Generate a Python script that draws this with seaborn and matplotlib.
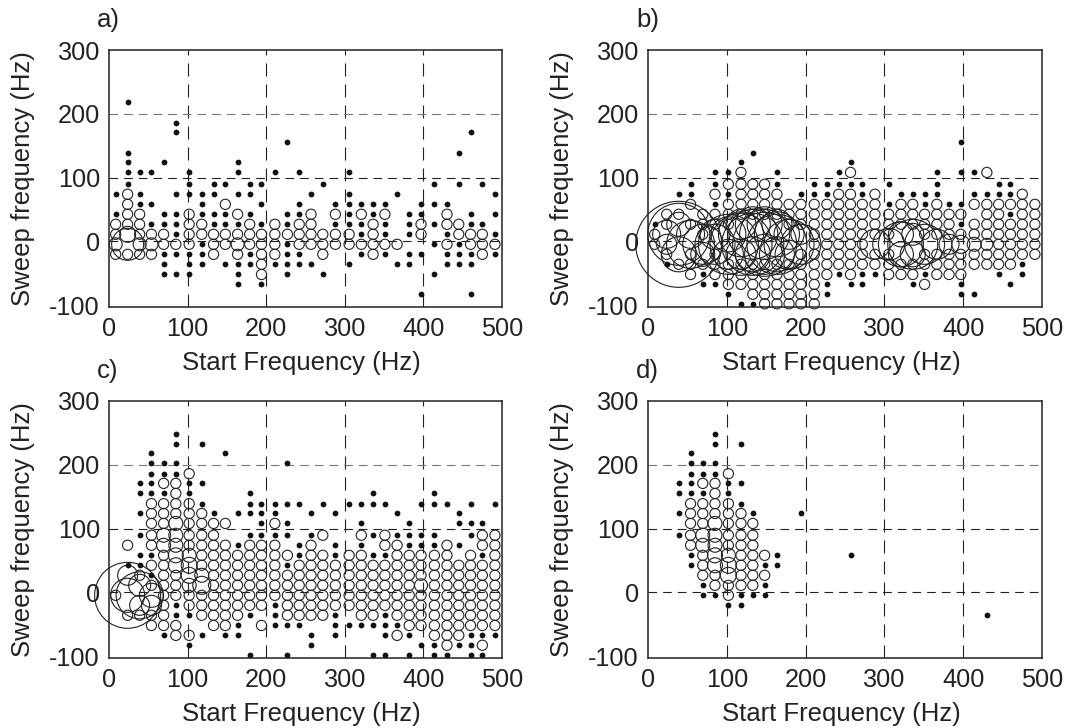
import matplotlib
matplotlib.use("Agg")
import matplotlib.pyplot as plt
import pandas as pd
import seaborn as sns

W, H = 1065, 728

# Analysis grid of the start and sweep frequencies (Hz)
start_freq = [8.5, 23.7, 39, 54, 69.5, 85, 102, 118, 133, 148, 163.6, 179, 194, 211, 227, 242,
              257, 272, 288, 305.5, 321, 336, 351, 366.5, 382, 397, 414, 430, 445, 460, 475, 491]
sweep_freq = [-98, -83, -67.5, -52, -36, -20.4, -4.7, 11, 26.7, 42.4, 58, 73.8, 89.5, 108, 123.6,
              139, 155, 170.8, 186, 202, 218, 233, 249]

# Each panel: per column of start_freq, which rows of sweep_freq hold a mark
a_dots = [[11, 9], [20, 15, 14, 13, 12], [13, 11, 10], [13, 10, 8], [14, 9, 8, 5, 4, 3],
          [18, 17, 11, 9, 8, 7, 5, 3], [13, 12, 11, 5, 4, 3], [11, 10, 9, 6, 5, 4], [12, 11, 9, 8],
          [12, 9, 8, 4], [14, 13, 11, 8, 4, 3, 2], [12, 11, 9, 5, 4], [12, 10, 8, 2], [13, 4],
          [16, 9, 8, 6, 5, 4, 3], [13, 10, 9, 5, 4], [11, 4], [12, 3], [10, 8],
          [13, 11, 10, 9, 8, 4], [10, 8, 7, 5], [10, 9], [10, 8, 7, 5], [11, 4],
          [9, 8, 7, 5, 4], [10, 9, 5, 1], [12, 10, 8, 6, 3], [10, 7, 5, 4], [15, 12, 6, 5, 4],
          [17, 9, 8, 5, 4, 1], [12, 8], [11, 9, 7, 5]]
a_open = [[8, 7, 5], [11, 10, 9, 8, 5], [9, 8, 7, 5], [7, 5], [7, 6], [6], [9, 8, 7, 6], [8, 7],
          [7, 6, 5], [10, 7, 6], [9, 7, 5], [8, 7, 6], [7, 6, 5, 4, 3], [8, 7, 6, 5], [7],
          [8, 7, 6], [9, 8, 7, 6], [7, 6, 5], [9, 7, 6], [7, 6], [9, 6], [8, 7, 6, 5], [9, 6],
          [6], [], [8, 7], [], [9, 8, 6], [8, 7], [7, 6], [7, 6, 5], [6]]
a_big_col = [0, 1, 1, 2, 3, 10]
a_big_row = [6, 6, 7, 6, 6, 6]
a_big_diam = [13, 32, 16, 13, 13, 13]

b_dots = [[8], [4], [11], [12, 11], [3, 2], [13, 12, 10, 2], [13, 11, 1], [14, 0], [15, 0], [],
          [13, 12], [], [11], [12, 11], [12, 11, 2, 1], [13, 12, 3], [14, 12, 2], [12, 11, 3, 2],
          [3], [12, 10], [11], [11, 2], [11, 10, 3], [13, 12, 11], [10],
          [16, 13, 10, 8, 2, 1], [13, 11, 1], [11], [12, 11, 3], [12, 11, 9, 2], [4, 3], []]
b_open = [[7, 6], [9, 8, 5], [9, 8, 5, 4], [10, 8, 7, 5, 4, 3], [9, 8, 7, 5, 4],
          [11, 9, 8, 5, 4, 3], [12, 10, 9, 8, 4, 3, 2], [13, 12, 11, 10, 9, 4, 3, 2],
          [12, 11, 10, 9, 4, 3, 2, 1], [12, 11, 10, 9, 4, 3, 2, 1, 0], [11, 10, 9, 4, 3, 2, 1, 0],
          [10, 9, 8, 4, 3, 2, 1, 0], [10, 9, 8, 7, 6, 5, 4, 3, 2, 1, 0],
          [10, 9, 8, 7, 6, 5, 4, 3, 2, 1, 0], [10, 9, 8, 7, 6, 5, 4, 3], [11, 10, 9, 8, 7, 6, 5, 4],
          [13, 11, 10, 9, 8, 7, 6, 5, 4, 3], [10, 9, 8, 7, 6, 5, 4], [11, 10, 9, 8, 7, 5, 4],
          [9, 8, 7, 5, 4, 3], [10, 9, 8, 4, 3], [10, 9, 8, 4, 3], [9, 8, 7, 5, 4, 2],
          [10, 9, 8, 7, 5, 4, 3], [9, 8, 7, 5, 4, 3], [9, 7, 6, 5, 4, 3], [10, 8, 7, 5, 4],
          [13, 10, 9, 8, 7, 6, 5, 4], [10, 9, 8, 7, 6, 5, 4], [10, 8, 7, 6, 5, 4],
          [11, 10, 9, 8, 7, 6, 5], [10, 9, 8, 7, 6, 5]]
b_big_col = [2, 2, 1, 1, 3, 3, 4, 2, 2, 4, 5, 5, 6, 7, 7, 8, 8, 9, 9, 10, 10, 11, 12, 7, 8, 9, 10,
             6, 6, 7, 8, 9, 10, 11, 11, 12, 18, 19, 20, 21, 22, 23, 20, 21, 20, 21, 24, 25, 26, 27]
b_big_row = [6, 7, 7, 6, 6, 7, 6, 5, 8, 5, 7, 6, 6, 6, 7, 6, 7, 6, 7, 6, 7, 6, 6, 5, 5, 5, 5,
             7, 5, 8, 8, 8, 8, 7, 5, 7, 6, 6, 6, 6, 6, 6, 7, 7, 5, 5, 6, 6, 6, 6]
b_big_diam = [86, 62, 28, 20, 48, 28, 40, 35, 24, 24, 30, 40, 60, 62, 45, 62, 50, 64, 50, 60, 45,
              50, 40, 30, 35, 40, 35, 35, 30, 30, 35, 35, 30, 30, 28, 20, 30, 32, 45, 50, 40, 30,
              25, 22, 25, 25, 20, 18, 14, 12]

c_dots = [[], [9], [17, 16, 14, 12, 10, 9], [20, 19, 18, 17, 16, 10, 8], [19, 18, 16, 2],
          [22, 21, 19, 18, 5, 4], [17, 16, 4, 1], [21, 17, 15, 2], [14], [20, 2],
          [14, 11, 3, 2], [16, 15, 14, 12, 4, 0], [15, 14, 13, 12], [15, 14, 12, 5, 4, 3],
          [19, 15, 13, 12, 9, 3, 0], [15, 11, 10, 3], [14, 12, 2, 1], [15],
          [14, 11, 10, 4, 3, 2], [15, 3], [15, 13, 11, 3], [16, 15, 12, 10, 3, 0],
          [15, 10, 4, 3, 2, 0], [14, 12, 3], [13, 12, 11, 2, 0], [15, 12, 11, 1],
          [16, 15, 12, 11, 1, 0], [15, 0], [14, 13, 11, 1], [15, 13, 12, 2, 1, 0],
          [13, 10, 2, 0], [15, 2]]
c_open = [[6], [11, 4], [8, 7, 5, 4], [15, 14, 13, 12, 11, 9, 7, 5, 4, 3],
          [17, 15, 14, 13, 12, 11, 10, 9, 8, 7, 6, 5, 4, 3],
          [17, 16, 15, 14, 13, 12, 11, 10, 9, 8, 7, 6, 3, 2],
          [18, 15, 14, 13, 12, 11, 10, 9, 8, 7, 6, 5, 2],
          [14, 13, 12, 11, 10, 9, 8, 7, 6, 5, 4], [13, 12, 11, 10, 9, 8, 7, 6, 5, 4, 3],
          [13, 11, 10, 9, 8, 7, 6, 5, 4, 3], [10, 9, 8, 7, 6, 5, 4], [11, 10, 9, 8, 7, 6, 5],
          [11, 10, 9, 8, 7, 6, 5, 3], [13, 11, 10, 9, 8, 7, 6], [10, 8, 7, 6, 5, 4],
          [9, 8, 7, 6, 5, 4], [11, 10, 9, 8, 7, 6, 5, 4], [12, 10, 9, 8, 7, 6, 5, 4],
          [9, 8, 7, 6, 5], [10, 9, 8, 7, 6, 5], [12, 10, 9, 8, 7, 6, 5, 4], [9, 8, 7, 6, 5, 4],
          [12, 11, 9, 8, 7, 6, 5], [11, 10, 9, 8, 7, 6, 5, 4, 2], [10, 9, 8, 7, 6, 5, 4, 3],
          [10, 9, 8, 7, 6, 5, 4, 3], [10, 9, 8, 7, 6, 5, 4, 3, 2],
          [11, 10, 9, 8, 7, 6, 5, 4, 3, 2, 1], [9, 8, 7, 6, 5, 4, 3, 2],
          [10, 9, 8, 7, 6, 5, 4, 3], [12, 11, 9, 8, 7, 6, 5, 4, 3, 1],
          [12, 11, 10, 9, 8, 7, 6, 5, 4, 3]]
c_big_col = [1, 2, 1, 2, 2, 3, 3, 1, 4, 4, 5, 5, 5, 5, 5, 6, 6, 6, 6, 7, 7, 25]
c_big_row = [6, 6, 8, 7, 5, 6, 5, 6, 12, 11, 13, 12, 11, 10, 9, 10, 9, 8, 7, 7, 8, 7]
c_big_diam = [66, 47, 20, 22, 20, 24, 20, 34, 14, 14, 14, 14, 14, 15, 15, 14, 16, 16, 14, 18, 14, 13]

d_dots = [[], [], [17, 16, 14, 12], [20, 19, 18, 17, 16, 10, 9], [19, 18, 16, 7, 6],
          [22, 21, 19, 18, 6], [17, 16, 5], [21, 17, 15, 6, 5], [14, 6], [9, 7, 6], [10, 9], [],
          [14], [], [], [], [10], [], [], [], [], [], [], [], [], [], [], [4], [], [], [], []]
d_open = [[], [], [], [15, 14, 13, 12, 11], [17, 15, 14, 13, 12, 11, 10, 9, 8],
          [17, 16, 15, 14, 13, 12, 11, 10, 9, 8, 7], [18, 15, 14, 13, 12, 11, 10, 9, 8, 7, 6],
          [14, 13, 12, 11, 10, 9, 8, 7], [13, 12, 11, 10, 9, 8, 7], [10, 8], [], [], [], [], [],
          [], [], [], [], [], [], [], [], [], [], [], [], [], [], [], [], []]
d_big_col = [4, 4, 5, 5, 5, 5, 5, 6, 6, 6]
d_big_row = [12, 11, 13, 12, 11, 10, 9, 10, 9, 8]
d_big_diam = [14, 14, 14, 14, 14, 15, 15, 14, 16, 16]

panel_labels = ["a)", "b)", "c)", "d)"]
x_ticks = [0, 100, 200, 300, 400, 500]
y_ticks = [-100, 0, 100, 200, 300]


def to_frame(rows_per_col):
    recs = []
    for col, rows in enumerate(rows_per_col):
        for r in rows:
            recs.append((col, r, start_freq[col], sweep_freq[r]))
    return pd.DataFrame(recs, columns=["col", "row", "start", "sweep"])


def px_to_area(d):
    # marker diameter in px -> scatter area in pt^2 at dpi 100
    return (d * 0.72) ** 2


def draw_panel(ax, dots, opened, big_col, big_row, big_diam):
    ax.set_axisbelow(True)
    dots_df = to_frame(dots)
    open_df = to_frame(opened)
    big_df = pd.DataFrame({"col": big_col, "row": big_row, "diam": big_diam})
    big_df["start"] = [start_freq[c] for c in big_col]
    big_df["sweep"] = [sweep_freq[r] for r in big_row]

    # small circles are replaced where a larger one sits on the same cell
    taken = set(zip(big_col, big_row))
    open_df = open_df[[(c, r) not in taken for c, r in zip(open_df["col"], open_df["row"])]]

    if len(open_df):
        sns.scatterplot(data=open_df, x="start", y="sweep", ax=ax, s=px_to_area(10.2), linewidth=0.8,
                        edgecolor="#222222", legend=False, clip_on=False)
        ax.collections[-1].set_facecolor("none")
    big_df["area"] = big_df["diam"].map(px_to_area)
    sns.scatterplot(data=big_df, x="start", y="sweep", ax=ax, size="area",
                    sizes=(big_df["area"].min(), big_df["area"].max()),
                    size_norm=(big_df["area"].min(), big_df["area"].max()),
                    linewidth=0.8, edgecolor="#222222", legend=False, clip_on=False)
    ax.collections[-1].set_facecolor("none")
    sns.scatterplot(data=dots_df, x="start", y="sweep", ax=ax, s=px_to_area(5.8), color="#111111",
                    linewidth=0, legend=False, clip_on=False)

    ax.set_xlim(0, 500)
    ax.set_ylim(-103, 300)
    ax.set_xticks(x_ticks)
    ax.set_yticks(y_ticks)
    ax.set_xlabel("Start Frequency (Hz)", labelpad=7.5, x=0.49)
    ax.set_ylabel("Sweep frequency (Hz)", labelpad=10)
    ax.tick_params(length=0)
    ax.tick_params(axis="x", pad=7)
    ax.tick_params(axis="y", pad=6.5)
    ax.xaxis.grid(True, linestyle=(0, (11.7, 7.2)), linewidth=0.8, color="#222222")
    ax.yaxis.grid(True, linestyle=(0, (7.8, 5.4)), linewidth=0.8, color="#222222")
    ax.yaxis.get_gridlines()[0].set_visible(False)
    ax.yaxis.get_gridlines()[3].set_color("#777777")
    ax.yaxis.get_gridlines()[4].set_visible(False)
    ax.xaxis.get_gridlines()[0].set_visible(False)
    ax.xaxis.get_gridlines()[5].set_visible(False)
    for sp in ax.spines.values():
        sp.set_linewidth(1.1)
        sp.set_color("#222222")


sns.set_theme(style="white")
plt.rcParams["font.family"] = ["Liberation Sans", "DejaVu Sans"]
plt.rcParams["font.size"] = 18.5
plt.rcParams["axes.labelsize"] = 18.5
plt.rcParams["xtick.labelsize"] = 18.2
plt.rcParams["ytick.labelsize"] = 18.2
plt.rcParams["axes.unicode_minus"] = False
plt.rcParams["text.color"] = "#222222"
plt.rcParams["axes.labelcolor"] = "#222222"
plt.rcParams["xtick.color"] = "#222222"
plt.rcParams["ytick.color"] = "#222222"

fig = plt.figure(figsize=(W / 100, H / 100), dpi=100)

boxes = [(109, 50, 393, 257), (648, 50, 394, 257), (109, 401, 393, 257), (648, 401, 394, 257)]
panels = [
    (a_dots, a_open, a_big_col, a_big_row, a_big_diam),
    (b_dots, b_open, b_big_col, b_big_row, b_big_diam),
    (c_dots, c_open, c_big_col, c_big_row, c_big_diam),
    (d_dots, d_open, d_big_col, d_big_row, d_big_diam),
]
label_pos = [(97, 27), (636, 27), (97, 378), (636, 378)]

for box, data, lab, pos in zip(boxes, panels, panel_labels, label_pos):
    left, top, w, h = box
    ax = fig.add_axes([left / W, 1 - (top + h) / H, w / W, h / H])
    draw_panel(ax, *data)
    fig.text(pos[0] / W, 1 - pos[1] / H, lab, fontsize=18.5, ha="left", va="baseline")

fig.savefig("out.png", dpi=100)
